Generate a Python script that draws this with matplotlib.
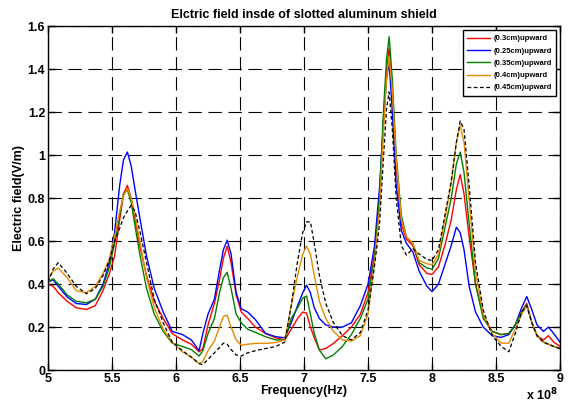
import numpy as np
import matplotlib.pyplot as plt

# frequency in units of 1e8 Hz
freq = [5.00, 5.04, 5.08, 5.15, 5.22, 5.30, 5.37, 5.43, 5.48, 5.52, 5.56, 5.59, 5.62, 5.65,
        5.68, 5.72, 5.77, 5.83, 5.90, 5.97, 6.05, 6.12, 6.18, 6.21, 6.25, 6.30, 6.34, 6.37,
        6.40, 6.43, 6.47, 6.51, 6.56, 6.62, 6.70, 6.78, 6.85, 6.90, 6.95, 6.99, 7.02, 7.05,
        7.08, 7.12, 7.17, 7.23, 7.30, 7.37, 7.44, 7.50, 7.55, 7.59, 7.62, 7.645, 7.665, 7.69,
        7.72, 7.76, 7.80, 7.85, 7.90, 7.96, 8.00, 8.05, 8.10, 8.15, 8.19, 8.22, 8.25, 8.29,
        8.34, 8.40, 8.47, 8.54, 8.60, 8.65, 8.70, 8.74, 8.78, 8.82, 8.87, 8.91, 8.95, 9.00]

e_03 = [0.40, 0.39, 0.36, 0.32, 0.29, 0.282, 0.30, 0.37, 0.45, 0.53, 0.70, 0.82, 0.86, 0.80,
        0.70, 0.57, 0.44, 0.32, 0.24, 0.17, 0.14, 0.12, 0.085, 0.10, 0.21, 0.31, 0.42, 0.52,
        0.577, 0.50, 0.35, 0.27, 0.24, 0.20, 0.17, 0.15, 0.14, 0.19, 0.24, 0.27, 0.265, 0.20,
        0.15, 0.093, 0.10, 0.124, 0.16, 0.20, 0.26, 0.36, 0.54, 0.80, 1.15, 1.40, 1.50, 1.30,
        0.95, 0.68, 0.61, 0.58, 0.49, 0.45, 0.445, 0.48, 0.58, 0.70, 0.84, 0.91, 0.82, 0.62,
        0.40, 0.25, 0.18, 0.165, 0.17, 0.21, 0.27, 0.31, 0.22, 0.16, 0.14, 0.16, 0.13, 0.11]

e_025 = [0.41, 0.42, 0.39, 0.34, 0.31, 0.305, 0.33, 0.40, 0.50, 0.64, 0.86, 0.98, 1.015, 0.95,
         0.84, 0.70, 0.53, 0.38, 0.27, 0.18, 0.165, 0.14, 0.09, 0.17, 0.26, 0.33, 0.465, 0.56,
         0.605, 0.54, 0.36, 0.285, 0.27, 0.235, 0.17, 0.155, 0.15, 0.22, 0.30, 0.36, 0.395, 0.36,
         0.29, 0.24, 0.21, 0.20, 0.20, 0.22, 0.30, 0.40, 0.575, 0.85, 1.15, 1.36, 1.43, 1.20,
         0.86, 0.65, 0.59, 0.55, 0.46, 0.39, 0.365, 0.40, 0.49, 0.58, 0.665, 0.64, 0.56, 0.39,
         0.27, 0.20, 0.16, 0.152, 0.165, 0.21, 0.29, 0.342, 0.28, 0.21, 0.18, 0.20, 0.17, 0.13]

e_035 = [0.41, 0.425, 0.40, 0.35, 0.32, 0.313, 0.33, 0.39, 0.48, 0.59, 0.72, 0.82, 0.84, 0.78,
         0.67, 0.53, 0.38, 0.26, 0.18, 0.125, 0.11, 0.095, 0.065, 0.09, 0.17, 0.24, 0.36, 0.43,
         0.455, 0.38, 0.26, 0.22, 0.19, 0.175, 0.155, 0.14, 0.14, 0.24, 0.29, 0.335, 0.345, 0.26,
         0.17, 0.093, 0.052, 0.07, 0.11, 0.165, 0.24, 0.33, 0.52, 0.80, 1.20, 1.45, 1.553, 1.35,
         1.00, 0.72, 0.62, 0.59, 0.50, 0.475, 0.47, 0.52, 0.66, 0.80, 0.96, 1.015, 0.92, 0.68,
         0.40, 0.24, 0.18, 0.165, 0.17, 0.21, 0.27, 0.303, 0.22, 0.16, 0.13, 0.12, 0.11, 0.10]

e_04 = [0.42, 0.46, 0.475, 0.43, 0.37, 0.36, 0.39, 0.45, 0.52, 0.62, 0.74, 0.81, 0.845, 0.80,
        0.72, 0.59, 0.43, 0.29, 0.19, 0.13, 0.085, 0.06, 0.03, 0.04, 0.09, 0.135, 0.20, 0.25,
        0.255, 0.20, 0.14, 0.115, 0.12, 0.124, 0.124, 0.128, 0.14, 0.30, 0.44, 0.54, 0.577, 0.54,
        0.44, 0.32, 0.24, 0.18, 0.14, 0.135, 0.16, 0.26, 0.50, 0.75, 1.10, 1.36, 1.46, 1.30,
        0.98, 0.70, 0.62, 0.59, 0.51, 0.495, 0.49, 0.54, 0.70, 0.87, 1.06, 1.14, 1.06, 0.79,
        0.46, 0.26, 0.17, 0.125, 0.125, 0.19, 0.26, 0.298, 0.22, 0.16, 0.13, 0.12, 0.11, 0.10]

e_045 = [0.41, 0.47, 0.50, 0.45, 0.39, 0.355, 0.38, 0.44, 0.51, 0.60, 0.66, 0.71, 0.74, 0.767,
         0.74, 0.64, 0.50, 0.33, 0.22, 0.13, 0.09, 0.06, 0.03, 0.025, 0.05, 0.08, 0.105, 0.125,
         0.12, 0.095, 0.07, 0.065, 0.08, 0.09, 0.10, 0.11, 0.13, 0.30, 0.51, 0.64, 0.69, 0.69,
         0.59, 0.44, 0.31, 0.22, 0.16, 0.14, 0.175, 0.28, 0.48, 0.68, 0.98, 1.22, 1.295, 1.12,
         0.80, 0.58, 0.535, 0.565, 0.54, 0.515, 0.51, 0.56, 0.72, 0.88, 1.06, 1.16, 1.12, 0.86,
         0.50, 0.28, 0.16, 0.11, 0.085, 0.17, 0.27, 0.30, 0.22, 0.16, 0.13, 0.12, 0.11, 0.10]

labels = ['(0.3cm)upward', '(0.25cm)upward', '(0.35cm)upward', '(0.4cm)upward', '(0.45cm)upward']

plt.rcParams['font.family'] = ['Liberation Sans', 'DejaVu Sans']
plt.rcParams['font.weight'] = 'bold'

fig = plt.figure(figsize=(5.68, 4.05), dpi=100)
ax = fig.add_axes([0.0845, 0.0864, 0.9015, 0.8482])

ax.plot(freq, e_03, color='#ff0000', lw=1.0, label=labels[0])
ax.plot(freq, e_025, color='#0000ff', lw=1.0, label=labels[1])
ax.plot(freq, e_035, color='#008000', lw=1.0, label=labels[2])
ax.plot(freq, e_04, color='#e88a00', lw=1.0, label=labels[3])
ax.plot(freq, e_045, color='black', lw=0.9, ls=(0, (3, 2)), label=labels[4])

ax.set_xlim(5, 9)
ax.set_ylim(0, 1.6)
ax.set_xticks(np.arange(5, 9.01, 0.5))
ax.set_xticklabels(['5', '5.5', '6', '6.5', '7', '7.5', '8', '8.5', '9'])
ax.set_yticks(np.arange(0, 1.61, 0.2))
ax.set_yticklabels(['0', '0.2', '0.4', '0.6', '0.8', '1', '1.2', '1.4', '1.6'])
ax.tick_params(direction='in', top=True, right=True, labelsize=9, length=5, width=1, pad=2)
ax.grid(True, color='black', ls=(0, (12, 6)), lw=0.8)
for s in ax.spines.values():
    s.set_linewidth(1.0)

ax.set_title('Elctric field insde of slotted aluminum shield', fontsize=9, fontweight='bold', pad=6)
ax.set_xlabel('Frequency(Hz)', fontsize=9, fontweight='bold', labelpad=0)
ax.set_ylabel('Electric field(V/m)', fontsize=9, fontweight='bold', labelpad=2)
fig.text(0.955, 0.012, r'x 10$^{8}$', fontsize=9, fontweight='bold', ha='center')

leg = ax.legend(loc='upper right', fontsize=5.5, frameon=True, fancybox=False,
                edgecolor='black', handlelength=3.0, borderpad=0.6, labelspacing=0.65,
                handletextpad=0.4, borderaxespad=0.5)
leg.get_frame().set_linewidth(1.0)
leg.get_frame().set_alpha(1)

fig.savefig('out.png', dpi=100)
